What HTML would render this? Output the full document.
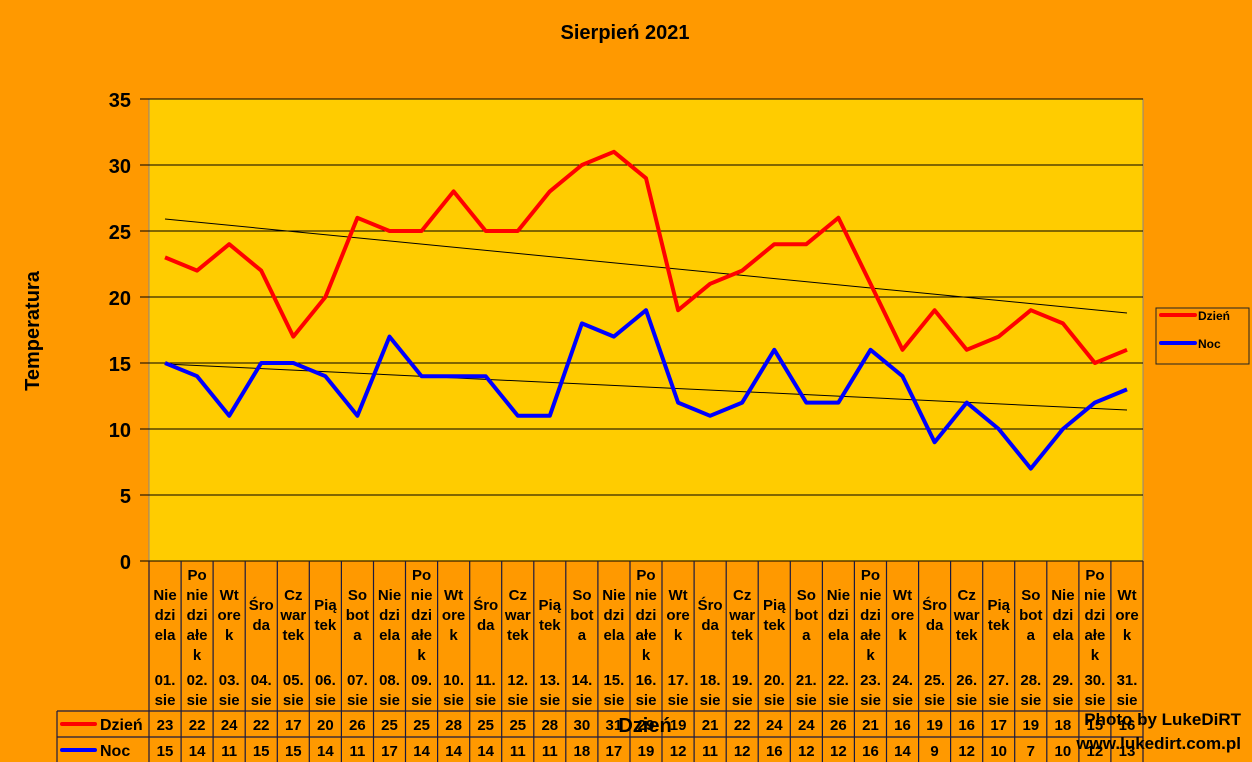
<!DOCTYPE html>
<html><head><meta charset="utf-8"><style>
html,body{margin:0;padding:0;background:#FF9900;}
svg{display:block;font-family:"Liberation Sans",Arial,sans-serif;font-weight:bold;}
</style></head><body>
<svg width="1252" height="762" xmlns="http://www.w3.org/2000/svg">
<rect width="1252" height="762" fill="#FF9900"/>
<text x="625" y="39" font-size="20" text-anchor="middle" fill="#000">Sierpień 2021</text>
<rect x="149" y="99" width="994" height="462" fill="#FFCC00" stroke="#888" stroke-width="1"/>
<g stroke="#000" stroke-width="1">
<line x1="149" y1="99" x2="1143" y2="99"/>
<line x1="149" y1="165" x2="1143" y2="165"/>
<line x1="149" y1="231" x2="1143" y2="231"/>
<line x1="149" y1="297" x2="1143" y2="297"/>
<line x1="149" y1="363" x2="1143" y2="363"/>
<line x1="149" y1="429" x2="1143" y2="429"/>
<line x1="149" y1="495" x2="1143" y2="495"/>
<line x1="140" y1="561" x2="1143" y2="561"/>
<line x1="140" y1="99" x2="149" y2="99"/><line x1="140" y1="165" x2="149" y2="165"/><line x1="140" y1="231" x2="149" y2="231"/><line x1="140" y1="297" x2="149" y2="297"/><line x1="140" y1="363" x2="149" y2="363"/><line x1="140" y1="429" x2="149" y2="429"/><line x1="140" y1="495" x2="149" y2="495"/>
</g>
<g font-size="20" text-anchor="end" fill="#000">
<text x="131" y="107">35</text><text x="131" y="173">30</text><text x="131" y="239">25</text><text x="131" y="305">20</text><text x="131" y="371">15</text><text x="131" y="437">10</text><text x="131" y="503">5</text><text x="131" y="569">0</text>
</g>
<text transform="translate(39,331) rotate(-90)" font-size="20" text-anchor="middle">Temperatura</text>
<!-- trend lines -->
<line x1="165" y1="219" x2="1127" y2="313" stroke="#000" stroke-width="1"/>
<line x1="165" y1="364" x2="1127" y2="410" stroke="#000" stroke-width="1"/>
<polyline fill="none" stroke="#FF0000" stroke-width="4" stroke-linejoin="round" points="165,257.4 197.1,270.6 229.2,244.2 261.2,270.6 293.3,336.6 325.4,297 357.4,217.8 389.5,231 421.6,231 453.6,191.4 485.7,231 517.8,231 549.8,191.4 581.9,165 613.9,151.8 646,178.2 678.1,310.2 710.1,283.8 742.2,270.6 774.3,244.2 806.3,244.2 838.4,217.8 870.5,283.8 902.5,349.8 934.6,310.2 966.7,349.8 998.7,336.6 1030.8,310.2 1062.9,323.4 1094.9,363 1127,349.8"/>
<polyline fill="none" stroke="#0000FF" stroke-width="4" stroke-linejoin="round" points="165,363 197.1,376.2 229.2,415.8 261.2,363 293.3,363 325.4,376.2 357.4,415.8 389.5,336.6 421.6,376.2 453.6,376.2 485.7,376.2 517.8,415.8 549.8,415.8 581.9,323.4 613.9,336.6 646,310.2 678.1,402.6 710.1,415.8 742.2,402.6 774.3,349.8 806.3,402.6 838.4,402.6 870.5,349.8 902.5,376.2 934.6,442.2 966.7,402.6 998.7,429 1030.8,468.6 1062.9,429 1094.9,402.6 1127,389.4"/>
<!-- legend -->
<rect x="1156" y="308" width="93" height="56" fill="#FF9900" stroke="#222" stroke-width="1"/>
<line x1="1161" y1="315" x2="1195" y2="315" stroke="#FF0000" stroke-width="4" stroke-linecap="round"/>
<line x1="1161" y1="343" x2="1195" y2="343" stroke="#0000FF" stroke-width="4" stroke-linecap="round"/>
<text x="1198" y="320" font-size="12">Dzień</text>
<text x="1198" y="348" font-size="12">Noc</text>
<!-- table grid -->
<g stroke="#1a1a40" stroke-width="1.2">
<line x1="57" y1="711" x2="1143" y2="711"/>
<line x1="57" y1="737" x2="1143" y2="737"/>
<line x1="57" y1="711" x2="57" y2="762"/>
<line x1="149" y1="561" x2="149" y2="762"/><line x1="181.1" y1="561" x2="181.1" y2="762"/><line x1="213.1" y1="561" x2="213.1" y2="762"/><line x1="245.2" y1="561" x2="245.2" y2="762"/><line x1="277.3" y1="561" x2="277.3" y2="762"/><line x1="309.3" y1="561" x2="309.3" y2="762"/><line x1="341.4" y1="561" x2="341.4" y2="762"/><line x1="373.5" y1="561" x2="373.5" y2="762"/><line x1="405.5" y1="561" x2="405.5" y2="762"/><line x1="437.6" y1="561" x2="437.6" y2="762"/><line x1="469.7" y1="561" x2="469.7" y2="762"/><line x1="501.7" y1="561" x2="501.7" y2="762"/><line x1="533.8" y1="561" x2="533.8" y2="762"/><line x1="565.8" y1="561" x2="565.8" y2="762"/><line x1="597.9" y1="561" x2="597.9" y2="762"/><line x1="630" y1="561" x2="630" y2="762"/><line x1="662" y1="561" x2="662" y2="762"/><line x1="694.1" y1="561" x2="694.1" y2="762"/><line x1="726.2" y1="561" x2="726.2" y2="762"/><line x1="758.2" y1="561" x2="758.2" y2="762"/><line x1="790.3" y1="561" x2="790.3" y2="762"/><line x1="822.4" y1="561" x2="822.4" y2="762"/><line x1="854.4" y1="561" x2="854.4" y2="762"/><line x1="886.5" y1="561" x2="886.5" y2="762"/><line x1="918.6" y1="561" x2="918.6" y2="762"/><line x1="950.6" y1="561" x2="950.6" y2="762"/><line x1="982.7" y1="561" x2="982.7" y2="762"/><line x1="1014.7" y1="561" x2="1014.7" y2="762"/><line x1="1046.8" y1="561" x2="1046.8" y2="762"/><line x1="1078.9" y1="561" x2="1078.9" y2="762"/><line x1="1110.9" y1="561" x2="1110.9" y2="762"/><line x1="1143" y1="561" x2="1143" y2="762"/>
</g>
<line x1="62" y1="724" x2="95" y2="724" stroke="#FF0000" stroke-width="4" stroke-linecap="round"/>
<line x1="62" y1="750" x2="95" y2="750" stroke="#0000FF" stroke-width="4" stroke-linecap="round"/>
<text x="100" y="730" font-size="16">Dzień</text>
<text x="100" y="756" font-size="16">Noc</text>
<!-- category labels -->
<g font-size="15" text-anchor="middle" fill="#000">
<text x="165"><tspan x="165" y="600">Nie</tspan><tspan x="165" y="620">dzi</tspan><tspan x="165" y="640">ela</tspan><tspan x="165" y="685">01.</tspan><tspan x="165" y="705">sie</tspan></text>
<text x="197.1"><tspan x="197.1" y="580">Po</tspan><tspan x="197.1" y="600">nie</tspan><tspan x="197.1" y="620">dzi</tspan><tspan x="197.1" y="640">ałe</tspan><tspan x="197.1" y="660">k</tspan><tspan x="197.1" y="685">02.</tspan><tspan x="197.1" y="705">sie</tspan></text>
<text x="229.2"><tspan x="229.2" y="600">Wt</tspan><tspan x="229.2" y="620">ore</tspan><tspan x="229.2" y="640">k</tspan><tspan x="229.2" y="685">03.</tspan><tspan x="229.2" y="705">sie</tspan></text>
<text x="261.2"><tspan x="261.2" y="610">Śro</tspan><tspan x="261.2" y="630">da</tspan><tspan x="261.2" y="685">04.</tspan><tspan x="261.2" y="705">sie</tspan></text>
<text x="293.3"><tspan x="293.3" y="600">Cz</tspan><tspan x="293.3" y="620">war</tspan><tspan x="293.3" y="640">tek</tspan><tspan x="293.3" y="685">05.</tspan><tspan x="293.3" y="705">sie</tspan></text>
<text x="325.4"><tspan x="325.4" y="610">Pią</tspan><tspan x="325.4" y="630">tek</tspan><tspan x="325.4" y="685">06.</tspan><tspan x="325.4" y="705">sie</tspan></text>
<text x="357.4"><tspan x="357.4" y="600">So</tspan><tspan x="357.4" y="620">bot</tspan><tspan x="357.4" y="640">a</tspan><tspan x="357.4" y="685">07.</tspan><tspan x="357.4" y="705">sie</tspan></text>
<text x="389.5"><tspan x="389.5" y="600">Nie</tspan><tspan x="389.5" y="620">dzi</tspan><tspan x="389.5" y="640">ela</tspan><tspan x="389.5" y="685">08.</tspan><tspan x="389.5" y="705">sie</tspan></text>
<text x="421.6"><tspan x="421.6" y="580">Po</tspan><tspan x="421.6" y="600">nie</tspan><tspan x="421.6" y="620">dzi</tspan><tspan x="421.6" y="640">ałe</tspan><tspan x="421.6" y="660">k</tspan><tspan x="421.6" y="685">09.</tspan><tspan x="421.6" y="705">sie</tspan></text>
<text x="453.6"><tspan x="453.6" y="600">Wt</tspan><tspan x="453.6" y="620">ore</tspan><tspan x="453.6" y="640">k</tspan><tspan x="453.6" y="685">10.</tspan><tspan x="453.6" y="705">sie</tspan></text>
<text x="485.7"><tspan x="485.7" y="610">Śro</tspan><tspan x="485.7" y="630">da</tspan><tspan x="485.7" y="685">11.</tspan><tspan x="485.7" y="705">sie</tspan></text>
<text x="517.8"><tspan x="517.8" y="600">Cz</tspan><tspan x="517.8" y="620">war</tspan><tspan x="517.8" y="640">tek</tspan><tspan x="517.8" y="685">12.</tspan><tspan x="517.8" y="705">sie</tspan></text>
<text x="549.8"><tspan x="549.8" y="610">Pią</tspan><tspan x="549.8" y="630">tek</tspan><tspan x="549.8" y="685">13.</tspan><tspan x="549.8" y="705">sie</tspan></text>
<text x="581.9"><tspan x="581.9" y="600">So</tspan><tspan x="581.9" y="620">bot</tspan><tspan x="581.9" y="640">a</tspan><tspan x="581.9" y="685">14.</tspan><tspan x="581.9" y="705">sie</tspan></text>
<text x="613.9"><tspan x="613.9" y="600">Nie</tspan><tspan x="613.9" y="620">dzi</tspan><tspan x="613.9" y="640">ela</tspan><tspan x="613.9" y="685">15.</tspan><tspan x="613.9" y="705">sie</tspan></text>
<text x="646"><tspan x="646" y="580">Po</tspan><tspan x="646" y="600">nie</tspan><tspan x="646" y="620">dzi</tspan><tspan x="646" y="640">ałe</tspan><tspan x="646" y="660">k</tspan><tspan x="646" y="685">16.</tspan><tspan x="646" y="705">sie</tspan></text>
<text x="678.1"><tspan x="678.1" y="600">Wt</tspan><tspan x="678.1" y="620">ore</tspan><tspan x="678.1" y="640">k</tspan><tspan x="678.1" y="685">17.</tspan><tspan x="678.1" y="705">sie</tspan></text>
<text x="710.1"><tspan x="710.1" y="610">Śro</tspan><tspan x="710.1" y="630">da</tspan><tspan x="710.1" y="685">18.</tspan><tspan x="710.1" y="705">sie</tspan></text>
<text x="742.2"><tspan x="742.2" y="600">Cz</tspan><tspan x="742.2" y="620">war</tspan><tspan x="742.2" y="640">tek</tspan><tspan x="742.2" y="685">19.</tspan><tspan x="742.2" y="705">sie</tspan></text>
<text x="774.3"><tspan x="774.3" y="610">Pią</tspan><tspan x="774.3" y="630">tek</tspan><tspan x="774.3" y="685">20.</tspan><tspan x="774.3" y="705">sie</tspan></text>
<text x="806.3"><tspan x="806.3" y="600">So</tspan><tspan x="806.3" y="620">bot</tspan><tspan x="806.3" y="640">a</tspan><tspan x="806.3" y="685">21.</tspan><tspan x="806.3" y="705">sie</tspan></text>
<text x="838.4"><tspan x="838.4" y="600">Nie</tspan><tspan x="838.4" y="620">dzi</tspan><tspan x="838.4" y="640">ela</tspan><tspan x="838.4" y="685">22.</tspan><tspan x="838.4" y="705">sie</tspan></text>
<text x="870.5"><tspan x="870.5" y="580">Po</tspan><tspan x="870.5" y="600">nie</tspan><tspan x="870.5" y="620">dzi</tspan><tspan x="870.5" y="640">ałe</tspan><tspan x="870.5" y="660">k</tspan><tspan x="870.5" y="685">23.</tspan><tspan x="870.5" y="705">sie</tspan></text>
<text x="902.5"><tspan x="902.5" y="600">Wt</tspan><tspan x="902.5" y="620">ore</tspan><tspan x="902.5" y="640">k</tspan><tspan x="902.5" y="685">24.</tspan><tspan x="902.5" y="705">sie</tspan></text>
<text x="934.6"><tspan x="934.6" y="610">Śro</tspan><tspan x="934.6" y="630">da</tspan><tspan x="934.6" y="685">25.</tspan><tspan x="934.6" y="705">sie</tspan></text>
<text x="966.7"><tspan x="966.7" y="600">Cz</tspan><tspan x="966.7" y="620">war</tspan><tspan x="966.7" y="640">tek</tspan><tspan x="966.7" y="685">26.</tspan><tspan x="966.7" y="705">sie</tspan></text>
<text x="998.7"><tspan x="998.7" y="610">Pią</tspan><tspan x="998.7" y="630">tek</tspan><tspan x="998.7" y="685">27.</tspan><tspan x="998.7" y="705">sie</tspan></text>
<text x="1030.8"><tspan x="1030.8" y="600">So</tspan><tspan x="1030.8" y="620">bot</tspan><tspan x="1030.8" y="640">a</tspan><tspan x="1030.8" y="685">28.</tspan><tspan x="1030.8" y="705">sie</tspan></text>
<text x="1062.9"><tspan x="1062.9" y="600">Nie</tspan><tspan x="1062.9" y="620">dzi</tspan><tspan x="1062.9" y="640">ela</tspan><tspan x="1062.9" y="685">29.</tspan><tspan x="1062.9" y="705">sie</tspan></text>
<text x="1094.9"><tspan x="1094.9" y="580">Po</tspan><tspan x="1094.9" y="600">nie</tspan><tspan x="1094.9" y="620">dzi</tspan><tspan x="1094.9" y="640">ałe</tspan><tspan x="1094.9" y="660">k</tspan><tspan x="1094.9" y="685">30.</tspan><tspan x="1094.9" y="705">sie</tspan></text>
<text x="1127"><tspan x="1127" y="600">Wt</tspan><tspan x="1127" y="620">ore</tspan><tspan x="1127" y="640">k</tspan><tspan x="1127" y="685">31.</tspan><tspan x="1127" y="705">sie</tspan></text>
</g>
<!-- table values -->
<g font-size="15" text-anchor="middle">
<text x="165" y="730">23</text><text x="197.1" y="730">22</text><text x="229.2" y="730">24</text><text x="261.2" y="730">22</text><text x="293.3" y="730">17</text><text x="325.4" y="730">20</text><text x="357.4" y="730">26</text><text x="389.5" y="730">25</text><text x="421.6" y="730">25</text><text x="453.6" y="730">28</text><text x="485.7" y="730">25</text><text x="517.8" y="730">25</text><text x="549.8" y="730">28</text><text x="581.9" y="730">30</text><text x="613.9" y="730">31</text><text x="646" y="730">29</text><text x="678.1" y="730">19</text><text x="710.1" y="730">21</text><text x="742.2" y="730">22</text><text x="774.3" y="730">24</text><text x="806.3" y="730">24</text><text x="838.4" y="730">26</text><text x="870.5" y="730">21</text><text x="902.5" y="730">16</text><text x="934.6" y="730">19</text><text x="966.7" y="730">16</text><text x="998.7" y="730">17</text><text x="1030.8" y="730">19</text><text x="1062.9" y="730">18</text><text x="1094.9" y="730">15</text><text x="1127" y="730">16</text>
<text x="165" y="756">15</text><text x="197.1" y="756">14</text><text x="229.2" y="756">11</text><text x="261.2" y="756">15</text><text x="293.3" y="756">15</text><text x="325.4" y="756">14</text><text x="357.4" y="756">11</text><text x="389.5" y="756">17</text><text x="421.6" y="756">14</text><text x="453.6" y="756">14</text><text x="485.7" y="756">14</text><text x="517.8" y="756">11</text><text x="549.8" y="756">11</text><text x="581.9" y="756">18</text><text x="613.9" y="756">17</text><text x="646" y="756">19</text><text x="678.1" y="756">12</text><text x="710.1" y="756">11</text><text x="742.2" y="756">12</text><text x="774.3" y="756">16</text><text x="806.3" y="756">12</text><text x="838.4" y="756">12</text><text x="870.5" y="756">16</text><text x="902.5" y="756">14</text><text x="934.6" y="756">9</text><text x="966.7" y="756">12</text><text x="998.7" y="756">10</text><text x="1030.8" y="756">7</text><text x="1062.9" y="756">10</text><text x="1094.9" y="756">12</text><text x="1127" y="756">13</text>
</g>
<text x="645" y="732" font-size="20" text-anchor="middle">Dzień</text>
<text x="1241" y="725" font-size="17" text-anchor="end">Photo by LukeDiRT</text>
<text x="1241" y="749" font-size="17" text-anchor="end">www.lukedirt.com.pl</text>
</svg>
</body></html>
